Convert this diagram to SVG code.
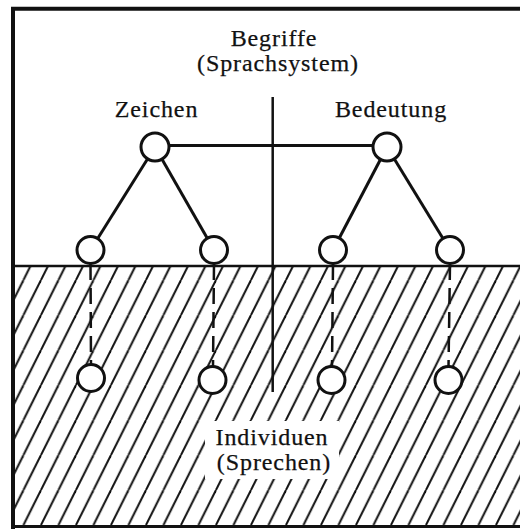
<svg xmlns="http://www.w3.org/2000/svg" width="520" height="529" viewBox="0 0 520 529">
<style>
  .lbl { font-family: "Liberation Serif", "Times New Roman", serif; font-size: 24px; letter-spacing: 0.9px; fill: #111; stroke: #111; stroke-width: 0.25; text-anchor: middle; }
  .node circle { fill: #fff; stroke: #111; stroke-width: 3; }
  .edge { stroke: #111; stroke-width: 3; fill: none; }
  .dash { stroke: #111; stroke-width: 2.5; stroke-dasharray: 16 8; fill: none; }
  .frame { stroke: #111; fill: none; }
</style>
<defs>
  <pattern id="hatch" patternUnits="userSpaceOnUse" x="6" y="0" width="17.5" height="35">
    <line x1="-17.5" y1="35" x2="0" y2="0" stroke="#111" stroke-width="2"/>
    <line x1="0" y1="35" x2="17.5" y2="0" stroke="#111" stroke-width="2"/>
    <line x1="17.5" y1="35" x2="35" y2="0" stroke="#111" stroke-width="2"/>
  </pattern>
</defs>
<rect width="520" height="529" fill="#fff"/>
<g id="hatched-area">
  <rect x="13" y="266" width="507" height="260" fill="url(#hatch)"/>
  <rect x="205" y="421" width="134" height="58" fill="#fff"/>
</g>
<g id="frame">
  <line class="frame" x1="11" y1="8.7" x2="520" y2="8.7" stroke-width="4"/>
  <line class="frame" x1="13" y1="7" x2="13" y2="529" stroke-width="4"/>
  <line class="frame" x1="11" y1="526.5" x2="520" y2="526.5" stroke-width="3"/>
  <line class="frame" x1="13" y1="266" x2="520" y2="266" stroke-width="2.5"/>
  <line class="frame" x1="272.7" y1="97" x2="272.7" y2="392" stroke-width="2.5"/>
</g>
<g id="connectors">
  <line class="edge" x1="169" y1="145.5" x2="373" y2="145.5" stroke-width="2.5"/>
  <line class="edge" x1="155" y1="147" x2="90.5" y2="250"/>
  <line class="edge" x1="155" y1="147" x2="214" y2="250"/>
  <line class="edge" x1="387" y1="147" x2="333" y2="250"/>
  <line class="edge" x1="387" y1="147" x2="450" y2="250"/>
  <line class="dash" x1="90.5" y1="264" x2="91" y2="366"/>
  <line class="dash" x1="214" y1="264" x2="213" y2="367"/>
  <line class="dash" x1="333" y1="264" x2="332" y2="367"/>
  <line class="dash" x1="450" y1="264" x2="448.5" y2="367"/>
</g>
<g id="zeichen" class="node"><circle cx="155" cy="147" r="14"/></g>
<g id="bedeutung" class="node"><circle cx="387" cy="147" r="14"/></g>
<g id="zeichen-1" class="node"><circle cx="90.5" cy="250" r="13.5"/></g>
<g id="zeichen-2" class="node"><circle cx="214" cy="250" r="13.5"/></g>
<g id="bedeutung-1" class="node"><circle cx="333" cy="250" r="13.5"/></g>
<g id="bedeutung-2" class="node"><circle cx="450" cy="250" r="13.5"/></g>
<g id="zeichen-1-ind" class="node"><circle cx="91" cy="378" r="13.5"/></g>
<g id="zeichen-2-ind" class="node"><circle cx="212.5" cy="380" r="13.5"/></g>
<g id="bedeutung-1-ind" class="node"><circle cx="331.5" cy="380" r="13.5"/></g>
<g id="bedeutung-2-ind" class="node"><circle cx="448.5" cy="380" r="13.5"/></g>
<g id="labels">
  <text class="lbl" x="274" y="46">Begriffe</text>
  <text class="lbl" x="278" y="71">(Sprachsystem)</text>
  <text class="lbl" x="156.5" y="117">Zeichen</text>
  <text class="lbl" x="391" y="117">Bedeutung</text>
  <text class="lbl" x="272" y="445">Individuen</text>
  <text class="lbl" x="274" y="470">(Sprechen)</text>
</g>
</svg>
